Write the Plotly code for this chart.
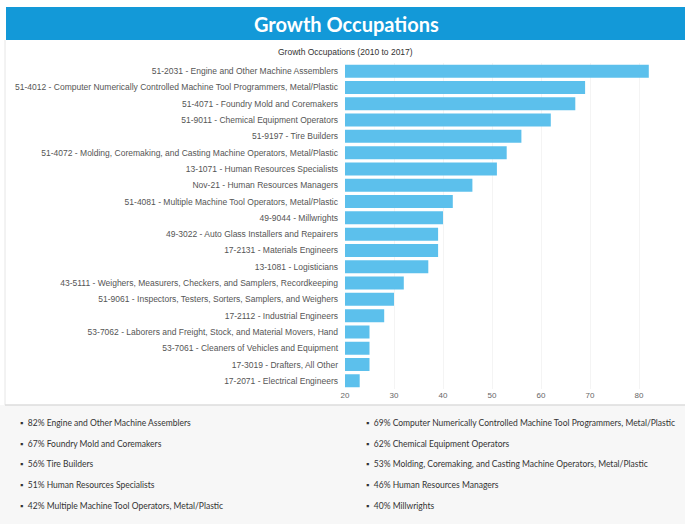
import plotly.graph_objects as go

# ---- data ----
codes = ["51-2031", "51-4012", "51-4071", "51-9011", "51-9197", "51-4072", "13-1071",
         "Nov-21", "51-4081", "49-9044", "49-3022", "17-2131", "13-1081", "43-5111",
         "51-9061", "17-2112", "53-7062", "53-7061", "17-3019", "17-2071"]
occupations = ["Engine and Other Machine Assemblers",
               "Computer Numerically Controlled Machine Tool Programmers, Metal/Plastic",
               "Foundry Mold and Coremakers",
               "Chemical Equipment Operators",
               "Tire Builders",
               "Molding, Coremaking, and Casting Machine Operators, Metal/Plastic",
               "Human Resources Specialists",
               "Human Resources Managers",
               "Multiple Machine Tool Operators, Metal/Plastic",
               "Millwrights",
               "Auto Glass Installers and Repairers",
               "Materials Engineers",
               "Logisticians",
               "Weighers, Measurers, Checkers, and Samplers, Recordkeeping",
               "Inspectors, Testers, Sorters, Samplers, and Weighers",
               "Industrial Engineers",
               "Laborers and Freight, Stock, and Material Movers, Hand",
               "Cleaners of Vehicles and Equipment",
               "Drafters, All Other",
               "Electrical Engineers"]
growth = [82, 69, 67, 62, 56, 53, 51, 46, 42, 40, 39, 39, 37, 32, 30, 28, 25, 25, 25, 23]
title_text = "Growth Occupations"
subtitle_text = "Growth Occupations (2010 to 2017)"
top_n = 10

labels = [f"{c} - {o}" for c, o in zip(codes, occupations)]

W, H = 685, 524
ML, MR, MT, MB = 345, 0, 63, 135
PW, PH = W - ML - MR, H - MT - MB

def px2x(px):
    return (px - ML) / PW

def px2y(py):
    return 1 - (py - MT) / PH

fig = go.Figure(go.Bar(
    x=growth, y=labels, orientation="h",
    marker=dict(color="#5cc0ec", line=dict(width=0)),
    hoverinfo="x+y",
))

shapes = []
annotations = []

# header band
shapes.append(dict(type="rect", xref="paper", yref="paper",
                   x0=px2x(6), x1=px2x(686), y0=px2y(40), y1=px2y(7),
                   fillcolor="#1399d8", line=dict(width=0), layer="below"))
# left border line
shapes.append(dict(type="line", xref="paper", yref="paper",
                   x0=px2x(5), x1=px2x(5), y0=px2y(405), y1=px2y(40),
                   line=dict(color="#e6e6e6", width=1)))
# bottom gray area
shapes.append(dict(type="rect", xref="paper", yref="paper",
                   x0=px2x(0), x1=px2x(686), y0=px2y(525), y1=px2y(405),
                   fillcolor="#f7f7f7", line=dict(width=0), layer="below"))
shapes.append(dict(type="line", xref="paper", yref="paper",
                   x0=px2x(5), x1=px2x(686), y0=px2y(405), y1=px2y(405),
                   line=dict(color="#dddddd", width=1.5)))

annotations.append(dict(text=f"<b>{title_text}</b>", xref="paper", yref="paper",
                        x=px2x(346), y=px2y(24), xanchor="center", yanchor="middle",
                        showarrow=False, font=dict(family="Lato", size=20, color="white")))
annotations.append(dict(text=subtitle_text, xref="paper", yref="paper",
                        x=px2x(345), y=px2y(52), xanchor="center", yanchor="middle",
                        showarrow=False, font=dict(family="Liberation Sans", size=8.5, color="#333333")))

# bullet list of the top occupations
row_y = [423, 444, 464, 485, 506]
for i in range(top_n):
    col = i % 2
    row = i // 2
    bx = 18 if col == 0 else 364
    annotations.append(dict(
        text=f"\u25aa&nbsp;&nbsp;{growth[i]}% {occupations[i]}",
        xref="paper", yref="paper", x=px2x(bx), y=px2y(row_y[row]),
        xanchor="left", yanchor="middle", showarrow=False,
        font=dict(family="Lato", size=8.5, color="#333333")))

fig.update_layout(
    width=W, height=H,
    margin=dict(l=ML, r=MR, t=MT, b=MB, pad=0),
    paper_bgcolor="white", plot_bgcolor="white",
    bargap=0.2,
    showlegend=False,
    shapes=shapes, annotations=annotations,
    xaxis=dict(range=[20, 20 + PW / 4.9], dtick=10, tick0=20,
               showgrid=True, gridcolor="#f4f4f4", zeroline=False,
               showline=False, ticks="", automargin=False,
               tickfont=dict(family="Liberation Sans", size=8, color="#666666")),
    yaxis=dict(autorange="reversed", showgrid=False, showline=False, ticks="",
               ticklen=0, automargin=False, ticklabelstandoff=6,
               tickfont=dict(family="Liberation Sans", size=8.5, color="#555555")),
)

fig.write_html("out.html")
